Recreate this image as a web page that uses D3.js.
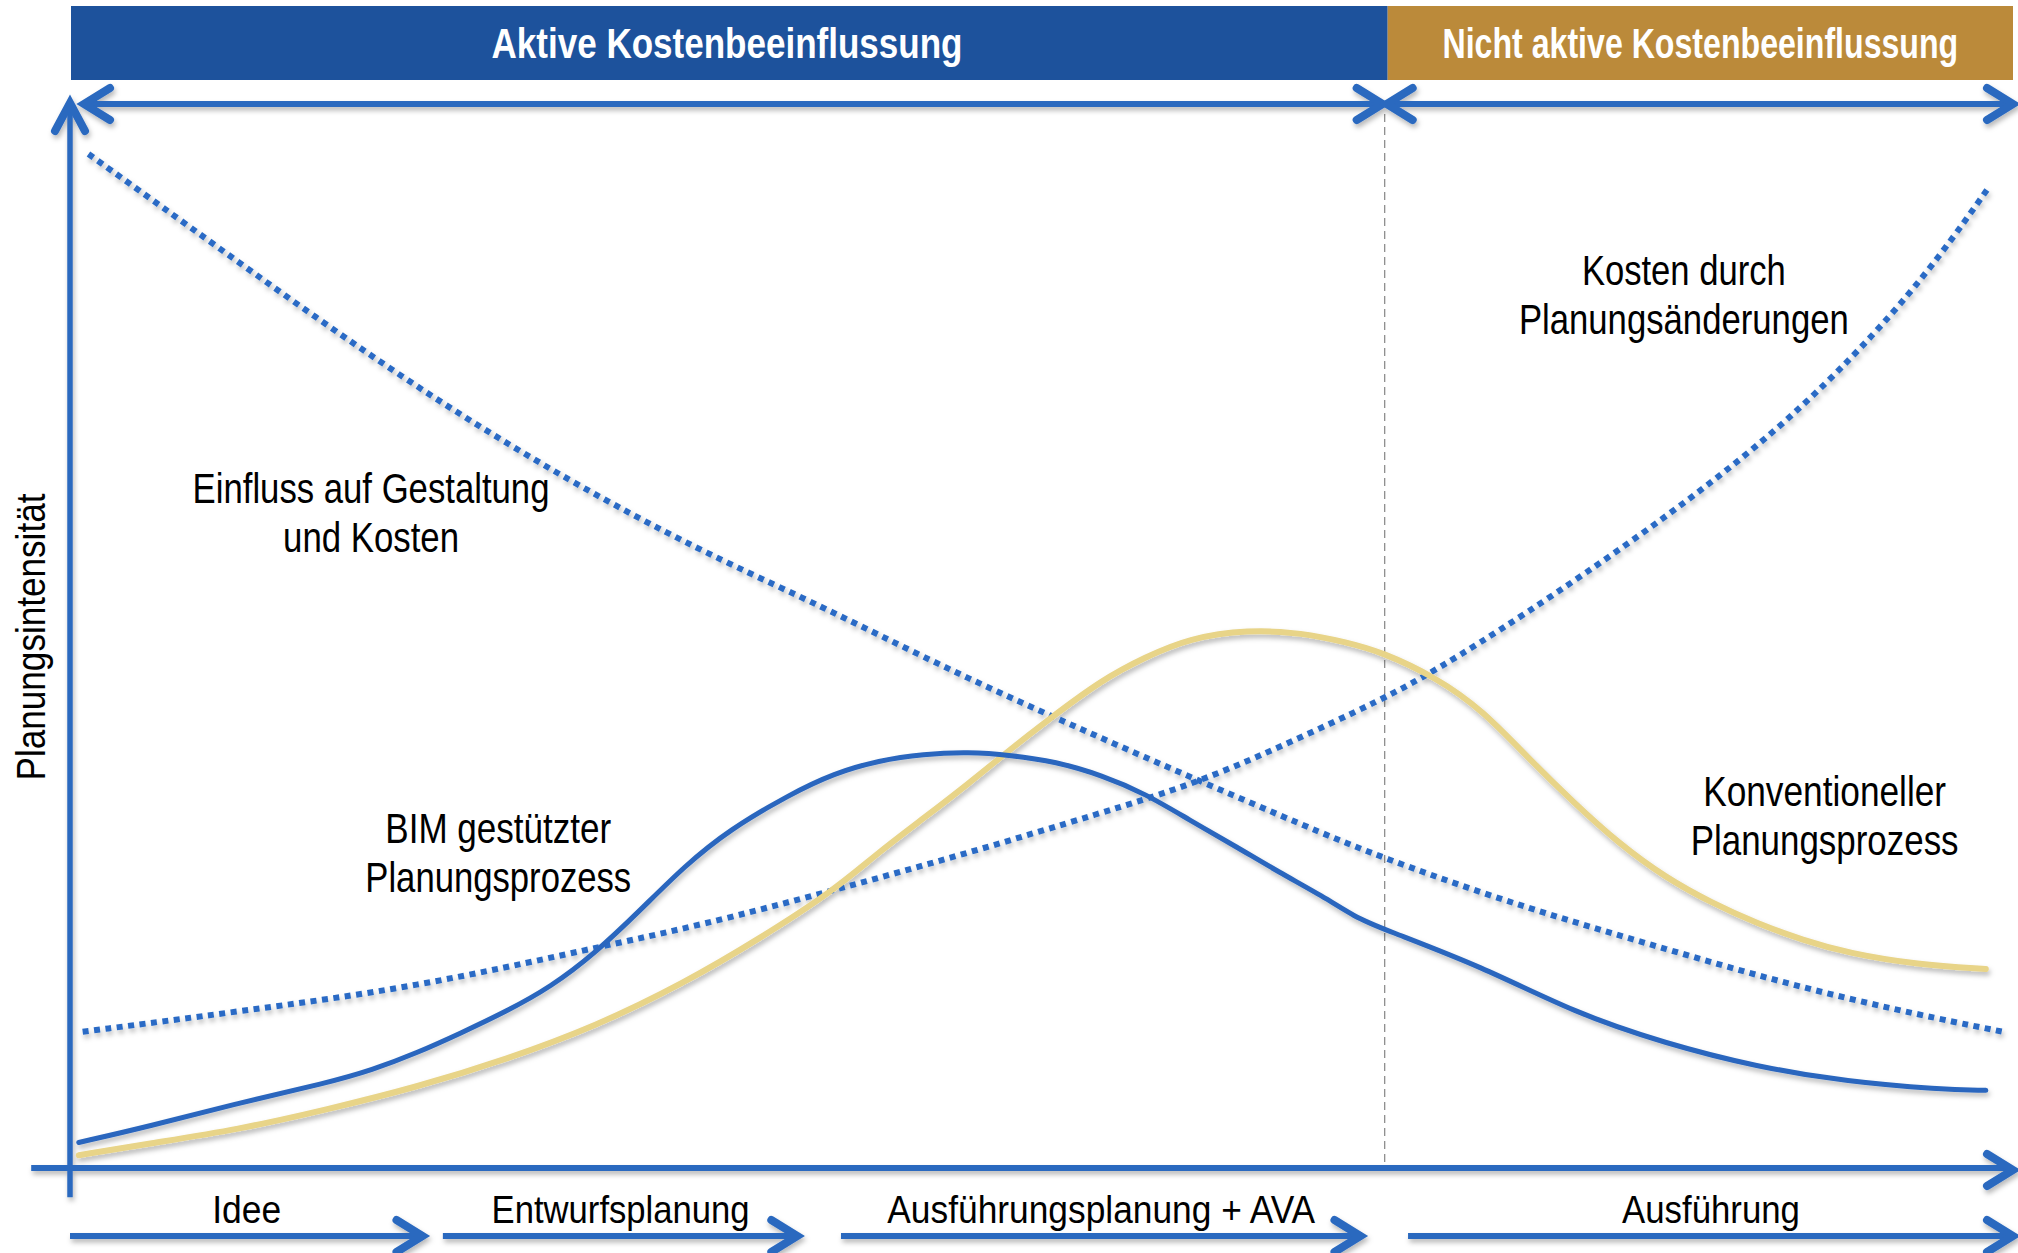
<!DOCTYPE html>
<html lang="de">
<head>
<meta charset="utf-8">
<title>Planungsintensität – BIM gestützter vs. konventioneller Planungsprozess</title>
<script src="https://cdn.jsdelivr.net/npm/d3@7"></script>
<style>
  html, body { margin: 0; padding: 0; background: #fff; }
  svg { display: block; }
  text { font-family: "Liberation Sans Narrow", "Arial Narrow", "Liberation Sans", Arial, sans-serif; }
</style>
</head>
<body>
<div id="chart"></div>
<script>
// --- Daten -----------------------------------------------------------
// x: Projektfortschritt in %, y: Intensität in % (qualitativ)

const bannerLabels = ['Aktive Kostenbeeinflussung', 'Nicht aktive Kostenbeeinflussung'];
const bannerBounds = [0, 67.8, 100];

const phaseLabels = ['Idee', 'Entwurfsplanung', 'Ausführungsplanung + AVA', 'Ausführung'];
const phaseStart = [0, 19.2, 39.7, 68.9];
const phaseEnd = [18.1, 37.4, 66.4, 100];

const yAxisLabel = 'Planungsintensität';

// BIM gestützter Planungsprozess (durchgezogen, blau)
const bimCurve = [
  [0.4, 2.4], [4.0, 3.9], [8.6, 6.1], [13.2, 8.0], [15.5, 9.2], [17.8, 10.8],
  [20.1, 12.7], [22.4, 14.7], [24.7, 17.0], [27.0, 20.2], [29.3, 24.2],
  [31.6, 28.4], [33.9, 31.8], [37.0, 35.1], [39.3, 37.1], [41.6, 38.3],
  [43.9, 38.9], [46.2, 39.1], [48.4, 38.8], [50.7, 38.2], [53.1, 36.9],
  [55.3, 35.2], [57.6, 32.7], [60.0, 30.2], [62.2, 27.8], [64.5, 25.5],
  [66.1, 23.6], [67.5, 22.5], [72.7, 18.9], [77.4, 14.6], [82.1, 11.7],
  [86.8, 9.5], [91.5, 8.1], [96.2, 7.4], [98.6, 7.3]
];

// Konventioneller Planungsprozess (durchgezogen, gelb)
const conventionalCurve = [
  [0.4, 1.2], [4.0, 2.3], [8.6, 3.6], [13.2, 5.5], [17.8, 7.6], [22.4, 10.2],
  [27.0, 13.3], [31.6, 17.4], [35.5, 21.6], [39.3, 26.1], [41.6, 29.7],
  [44.0, 33.0], [46.2, 36.1], [48.2, 39.1], [50.3, 42.1], [53.1, 45.9],
  [55.3, 48.0], [57.6, 49.8], [60.6, 50.6], [63.4, 50.3], [65.7, 49.4],
  [67.5, 48.5], [70.3, 46.1], [72.7, 43.0], [75.0, 38.6], [77.4, 34.3],
  [79.7, 30.5], [82.1, 27.3], [84.5, 24.9], [86.8, 23.0], [89.2, 21.4],
  [91.5, 20.2], [95.1, 19.1], [98.6, 18.7]
];

// Einfluss auf Gestaltung und Kosten (gepunktet, fallend)
const influenceCurve = [
  [0.9, 95.3], [6.0, 88.6], [12.6, 79.9], [19.1, 71.8], [25.7, 64.5],
  [32.3, 58.1], [37.7, 53.6], [41.6, 50.1], [46.2, 46.0], [50.7, 42.3],
  [55.3, 38.6], [60.0, 34.9], [64.5, 31.4], [67.5, 29.2], [72.7, 25.8],
  [77.4, 23.1], [82.1, 20.6], [86.8, 18.1], [91.5, 15.9], [96.2, 14.0],
  [99.5, 12.8]
];

// Kosten durch Planungsänderungen (gepunktet, steigend)
const changeCostCurve = [
  [0.6, 12.8], [8.6, 14.7], [17.8, 17.0], [27.0, 20.7], [32.4, 22.8],
  [39.3, 26.1], [46.2, 29.6], [53.1, 33.4], [57.7, 36.0], [62.2, 39.5],
  [67.6, 44.1], [70.3, 46.8], [74.6, 51.7], [81.3, 60.0], [87.9, 69.2],
  [93.0, 78.5], [96.3, 85.8], [98.8, 92.3]
];

const curveLabels = [
  ['Einfluss auf Gestaltung', 'und Kosten'],
  ['BIM gestützter', 'Planungsprozess'],
  ['Kosten durch', 'Planungsänderungen'],
  ['Konventioneller', 'Planungsprozess']
];

// --- Layout ----------------------------------------------------------
const W = 2018, H = 1253;
const COLORS = {
  banner: ['#1d529c', '#bb8a3a'],
  arrow: '#2b69bf',
  bim: '#2a66be',
  conventional: '#e8d488',
  dotted: '#2a6bc5',
  divider: '#8e8e8e'
};

// Ankerpunkte der Beschriftungen (Mitte, erste Grundlinie) in Datenkoordinaten
const labelAnchors = [[15.45, 62.5], [22.0, 30.5], [83.05, 83.0], [90.3, 34.0]];
const labelWidths = [[357, 176], [226, 266], [204, 330], [243, 268]];
const bannerTextWidths = [471, 516];
const phaseTextWidths = [69, 258, 428, 178];

const x = d3.scaleLinear().domain([0, 100]).range([71, 2013]);
const y = d3.scaleLinear().domain([0, 100]).range([1168, 104]);

const svg = d3.select('#chart').append('svg')
  .attr('width', W)
  .attr('height', H)
  .attr('viewBox', `0 0 ${W} ${H}`);

svg.append('rect').attr('width', W).attr('height', H).attr('fill', '#fff');

// Schatten unter Linien
const defs = svg.append('defs');
const shadow = defs.append('filter')
  .attr('id', 'shadow')
  .attr('filterUnits', 'userSpaceOnUse')
  .attr('x', 0).attr('y', 0).attr('width', W).attr('height', H);
shadow.append('feDropShadow')
  .attr('dx', 1.5).attr('dy', 3.5)
  .attr('stdDeviation', 2.5)
  .attr('flood-color', '#000')
  .attr('flood-opacity', 0.28);

// Text auf gewünschte Breite bringen (schmale Schrift wie im Original)
function fitText(sel, cx, cy, width, angle = 0) {
  const natural = sel.node().getComputedTextLength();
  const sx = width / natural;
  sel.attr('x', 0).attr('y', 0)
    .attr('transform', `translate(${cx},${cy}) rotate(${angle}) scale(${sx},1)`);
  return sel;
}

function addText(parent, str, size, weight = 'normal', fill = '#000') {
  return parent.append('text')
    .attr('text-anchor', 'middle')
    .attr('fill', fill)
    .attr('font-size', size)
    .attr('font-weight', weight)
    .text(str);
}

// Pfeilspitze als offener Winkel
function chevron(g, tip, dir, len = 26, half = 16) {
  const [tx, ty] = tip;
  const [dx, dy] = dir;
  const bx = tx - dx * len, by = ty - dy * len;
  const px = -dy * half, py = dx * half;
  g.append('path')
    .attr('d', `M${bx + px},${by + py}L${tx},${ty}L${bx - px},${by - py}`)
    .attr('fill', 'none')
    .attr('stroke', COLORS.arrow)
    .attr('stroke-width', 8)
    .attr('stroke-linecap', 'round')
    .attr('stroke-linejoin', 'miter');
}

function hLine(g, x0, x1, yy, w = 6) {
  g.append('line')
    .attr('x1', x0).attr('x2', x1)
    .attr('y1', yy).attr('y2', yy)
    .attr('stroke', COLORS.arrow)
    .attr('stroke-width', w);
}

// --- Banner ----------------------------------------------------------
const banner = svg.append('g');
bannerLabels.forEach((label, i) => {
  const x0 = x(bannerBounds[i]);
  const x1 = x(bannerBounds[i + 1]);
  banner.append('rect')
    .attr('x', x0).attr('y', 6)
    .attr('width', x1 - x0).attr('height', 74)
    .attr('fill', COLORS.banner[i]);
  const cx = i === 0 ? 727 : (x0 + x1) / 2;
  fitText(addText(banner, label, 42, 'bold', '#fff'), cx, 58, bannerTextWidths[i]);
});

// Trennlinie aktiv / nicht aktiv
svg.append('line')
  .attr('x1', x(bannerBounds[1]) - 3).attr('x2', x(bannerBounds[1]) - 3)
  .attr('y1', 114).attr('y2', y(0) - 4)
  .attr('stroke', COLORS.divider)
  .attr('stroke-width', 1.3)
  .attr('stroke-dasharray', '8 5');

// --- Pfeile ----------------------------------------------------------
const arrows = svg.append('g').attr('filter', 'url(#shadow)');
const topY = y(100);

// Doppelpfeile oben
const spans = [[x(0) + 13, x(bannerBounds[1]) - 5], [x(bannerBounds[1]) - 1, x(100)]];
spans.forEach(([a, b]) => {
  hLine(arrows, a + 3, b - 3, topY);
  chevron(arrows, [a, topY], [-1, 0]);
  chevron(arrows, [b, topY], [1, 0]);
});

// y-Achse
arrows.append('line')
  .attr('x1', x(0) - 1).attr('x2', x(0) - 1)
  .attr('y1', y(-2.75)).attr('y2', y(100) + 2)
  .attr('stroke', COLORS.arrow)
  .attr('stroke-width', 5.5);
chevron(arrows, [x(0) - 1, y(100) - 1], [0, -1], 28, 15);

// x-Achse
hLine(arrows, x(-2.05), x(100) - 3, y(0));
chevron(arrows, [x(100), y(0) + 2], [1, 0]);

// Phasenpfeile
const phaseY = 1236;
const phaseText = svg.append('g');
phaseLabels.forEach((label, i) => {
  const a = x(phaseStart[i]) - 1;
  const b = x(phaseEnd[i]);
  hLine(arrows, a, b - 3, phaseY);
  chevron(arrows, [b, phaseY], [1, 0]);
  const cx = (x(phaseStart[i]) + x(phaseEnd[i])) / 2;
  fitText(addText(phaseText, label, 39), cx, 1223, phaseTextWidths[i]);
});

// --- Kurven ----------------------------------------------------------
const line = d3.line()
  .x(d => x(d[0]))
  .y(d => y(d[1]))
  .curve(d3.curveBasis);

const curves = svg.append('g').attr('filter', 'url(#shadow)').attr('fill', 'none');

[influenceCurve, changeCostCurve].forEach(data => {
  curves.append('path')
    .datum(data)
    .attr('d', line)
    .attr('stroke', COLORS.dotted)
    .attr('stroke-width', 6)
    .attr('stroke-dasharray', '6 5.5');
});

curves.append('path')
  .datum(conventionalCurve)
  .attr('d', line)
  .attr('stroke', COLORS.conventional)
  .attr('stroke-width', 6)
  .attr('stroke-linecap', 'round');

curves.append('path')
  .datum(bimCurve)
  .attr('d', line)
  .attr('stroke', COLORS.bim)
  .attr('stroke-width', 5)
  .attr('stroke-linecap', 'round');

// --- Beschriftungen --------------------------------------------------
const annotations = svg.append('g');
curveLabels.forEach((lines, i) => {
  const [cx, cy] = labelAnchors[i];
  lines.forEach((s, j) => {
    fitText(addText(annotations, s, 42), x(cx), y(cy) + j * 49, labelWidths[i][j]);
  });
});

fitText(addText(svg, yAxisLabel, 40), 45, 637, 287, -90);
</script>
</body>
</html>
